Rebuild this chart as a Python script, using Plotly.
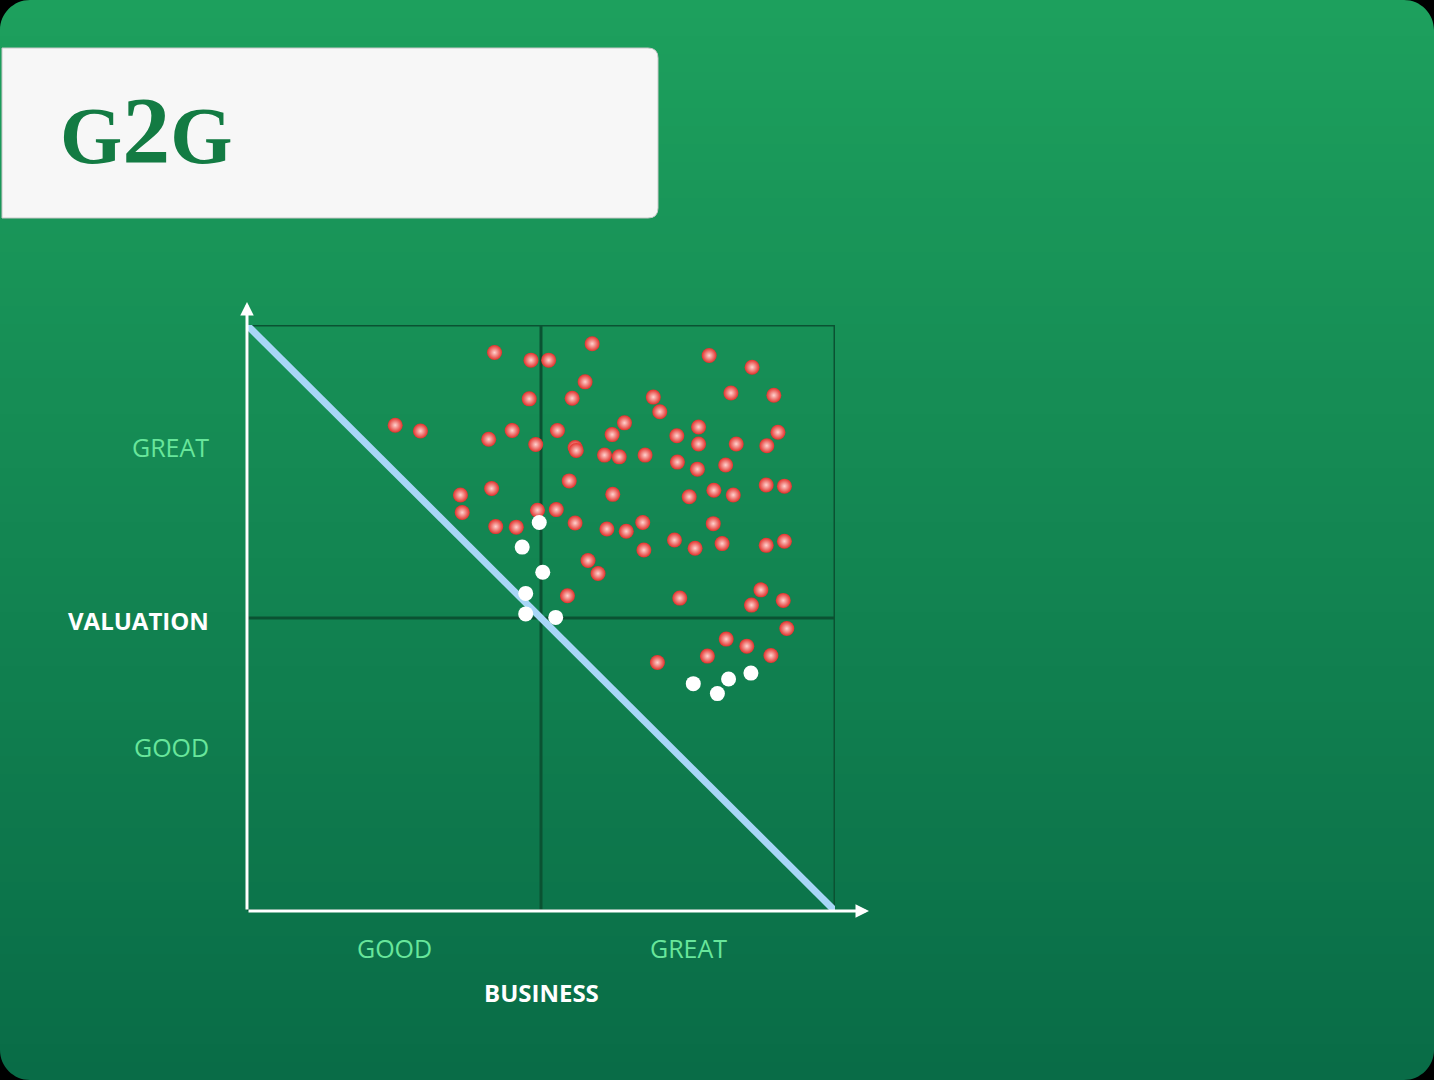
import plotly.graph_objects as go

W, H = 1434, 1080

# ---- data (0-10 scale: business quality x, valuation quality y) ----
red_x = [4.21, 4.83, 5.13, 5.87, 5.75, 4.80, 5.53, 2.52, 2.95, 4.11, 4.51, 4.91, 5.28, 5.58, 5.60,
         5.48, 3.63, 3.66, 4.16, 4.94, 5.26, 4.23, 4.58, 5.58, 5.80, 5.97, 5.45, 7.86, 8.59, 8.23,
         8.96, 6.91, 7.02, 6.42, 6.21, 7.68, 7.31, 7.68, 8.32, 9.03, 8.84, 6.08, 6.33, 6.77, 7.32,
         7.66, 8.14, 6.22, 7.52, 7.94, 8.27, 8.83, 9.14, 6.12, 6.45, 6.73, 7.93, 6.75, 7.27, 7.62,
         8.08, 8.83, 9.14, 7.36, 8.74, 8.58, 9.12, 9.18, 8.15, 8.50, 7.83, 8.91, 6.98]
red_y = [9.53, 9.40, 9.40, 9.68, 9.03, 8.74, 8.75, 8.29, 8.19, 8.05, 8.20, 7.96, 8.20, 7.91, 7.86,
         7.34, 7.10, 6.80, 7.21, 6.84, 6.85, 6.56, 6.55, 6.62, 5.98, 5.76, 5.38, 9.48, 9.28, 8.84,
         8.80, 8.77, 8.52, 8.33, 8.13, 8.26, 8.11, 7.97, 7.97, 8.17, 7.94, 7.78, 7.75, 7.78, 7.66,
         7.54, 7.61, 7.11, 7.07, 7.18, 7.10, 7.27, 7.25, 6.52, 6.48, 6.63, 6.61, 6.16, 6.33, 6.19,
         6.27, 6.24, 6.31, 5.34, 5.48, 5.22, 5.30, 4.82, 4.64, 4.52, 4.35, 4.36, 4.24]
white_x = [4.97, 4.68, 5.03, 4.74, 4.74, 5.25, 7.59, 8.00, 8.19, 8.57]
white_y = [6.63, 6.21, 5.78, 5.42, 5.07, 5.01, 3.88, 3.71, 3.96, 4.06]

x_tick_vals = [2.5, 7.5]
x_tick_text = ["GOOD", "GREAT"]
y_tick_vals = [2.80, 7.92]
y_tick_text = ["GOOD", "GREAT"]
x_title = "BUSINESS"
y_title = "VALUATION"
logo = "G2G"

# ---- layout geometry ----
X0, X1 = 247, 835          # plot square in pixels
Y0, Y1 = 325, 911          # top, bottom pixels

def px(x):
    return x / W

def py(y):
    return 1 - y / H

fig = go.Figure()

shapes = []

# background gradient bands
top_c = (29, 160, 93)
bot_c = (9, 108, 71)
N = 60
for i in range(N):
    t = i / (N - 1)
    c = tuple(round(top_c[k] + (bot_c[k] - top_c[k]) * t) for k in range(3))
    shapes.append(dict(type="rect", xref="paper", yref="paper",
                       x0=0, x1=1, y0=1 - (i + 1) / N - 0.001, y1=1 - i / N,
                       fillcolor="rgb(%d,%d,%d)" % c, line=dict(width=0), layer="below"))

# rounded corner masks (black)
r = 30
rx, ry = r / W, r / H
k = 0.552
corners = [
    f"M 0,1 L 0,{1-ry} C 0,{1-ry+k*ry} {rx-k*rx},1 {rx},1 Z",
    f"M 1,1 L {1-rx},1 C {1-rx+k*rx},1 1,{1-ry+k*ry} 1,{1-ry} Z",
    f"M 0,0 L 0,{ry} C 0,{ry-k*ry} {rx-k*rx},0 {rx},0 Z",
    f"M 1,0 L {1-rx},0 C {1-rx+k*rx},0 1,{ry-k*ry} 1,{ry} Z",
]
for p in corners:
    shapes.append(dict(type="path", xref="paper", yref="paper", path=p,
                       fillcolor="black", line=dict(width=0), layer="below"))

# logo card
bx0, bx1, by0, by1, br = 2, 658, 48, 218, 10
card = (f"M {px(bx0)},{py(by0)} L {px(bx1-br)},{py(by0)} "
        f"Q {px(bx1)},{py(by0)} {px(bx1)},{py(by0+br)} "
        f"L {px(bx1)},{py(by1-br)} Q {px(bx1)},{py(by1)} {px(bx1-br)},{py(by1)} "
        f"L {px(bx0)},{py(by1)} Z")
shapes.append(dict(type="path", xref="paper", yref="paper", path=card,
                   fillcolor="#f7f7f7", line=dict(color="#c8c8c8", width=1), layer="below"))

# grid square and quadrant lines
grid_col = "#0a5232"
shapes.append(dict(type="rect", xref="x", yref="y", x0=0, x1=10, y0=0, y1=10,
                   line=dict(color=grid_col, width=3), layer="below"))
shapes.append(dict(type="line", xref="x", yref="y", x0=5, x1=5, y0=0, y1=10,
                   line=dict(color=grid_col, width=3), layer="below"))
shapes.append(dict(type="line", xref="x", yref="y", x0=0, x1=10, y0=5, y1=5,
                   line=dict(color=grid_col, width=3), layer="below"))
# diagonal
shapes.append(dict(type="line", xref="x", yref="y", x0=0, x1=10, y0=10, y1=0,
                   line=dict(color="#a8d6f7", width=7), layer="below"))

fig.add_trace(go.Scatter(
    x=red_x, y=red_y, mode="markers", hoverinfo="skip",
    marker=dict(size=15, color="#e2302b", line=dict(width=0),
                gradient=dict(type="radial", color="#ffd2ce")),
    cliponaxis=False))
fig.add_trace(go.Scatter(
    x=white_x, y=white_y, mode="markers", hoverinfo="skip",
    marker=dict(size=15, color="#ffffff", line=dict(width=0)),
    cliponaxis=False))

green_txt = "#68e69b"
lab_font = dict(family="Open Sans", size=25, color=green_txt, weight=500)
annotations = []
for v, t in zip(x_tick_vals, x_tick_text):
    annotations.append(dict(x=v, y=py(948), xref="x", yref="paper", text=t, showarrow=False,
                            font=lab_font, xanchor="center", yanchor="middle"))
for v, t in zip(y_tick_vals, y_tick_text):
    annotations.append(dict(x=px(211), y=v, xref="paper", yref="y", text=t, showarrow=False,
                            font=lab_font, xanchor="right", yanchor="middle"))
annotations.append(dict(x=5, y=py(992), xref="x", yref="paper", text=f"<b>{x_title}</b>",
                        showarrow=False, font=dict(family="Open Sans", size=24, color="white"),
                        xanchor="center", yanchor="middle"))
annotations.append(dict(x=px(211), y=py(620), xref="paper", yref="paper", text=f"<b>{y_title}</b>",
                        showarrow=False, font=dict(family="Open Sans", size=24, color="white"),
                        xanchor="right", yanchor="middle"))

# axes with arrows
tip_y = (Y1 - 302) / ((Y1 - Y0) / 10)
tip_x = (869 - X0) / ((X1 - X0) / 10)
for tx, ty in [(0, tip_y), (tip_x, 0)]:
    annotations.append(dict(x=tx, y=ty, ax=0, ay=0, xref="x", yref="y", axref="x", ayref="y",
                            text="", showarrow=True, arrowhead=2, arrowsize=0.9, arrowwidth=3,
                            arrowcolor="white", standoff=0, startstandoff=0))

# logo
annotations.append(dict(x=px(58), y=py(131), xref="paper", yref="paper",
                        text=logo[0] + "<span style='font-size:96px'>" + logo[1] + "</span>" + logo[2],
                        showarrow=False, xanchor="left", yanchor="middle",
                        font=dict(family="Liberation Serif", size=80, color="#137b43", weight="bold")))

fig.update_layout(
    width=W, height=H, margin=dict(l=0, r=0, t=0, b=0),
    paper_bgcolor="black", plot_bgcolor="rgba(0,0,0,0)",
    showlegend=False,
    shapes=shapes, annotations=annotations,
    xaxis=dict(domain=[X0 / W, X1 / W], range=[0, 10], visible=False, fixedrange=True),
    yaxis=dict(domain=[1 - Y1 / H, 1 - Y0 / H], range=[0, 10], visible=False, fixedrange=True),
)

fig.write_html("out.html")
